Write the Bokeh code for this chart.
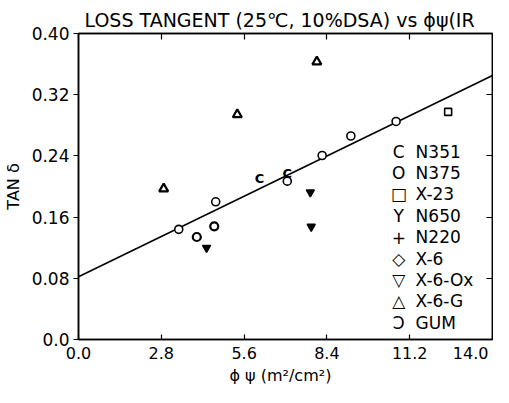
from bokeh.plotting import figure
from bokeh.models import LinearAxis, FixedTicker, Range1d, ColumnDataSource
from bokeh.core.properties import value
from bokeh.embed import file_html
from bokeh.resources import INLINE

# ---------------- data ----------------
title_text = "LOSS TANGENT (25℃, 10%DSA) vs ϕψ(IR"
x_axis_title = "ϕ ψ   (m²/cm²)"
y_axis_title = "TAN δ"

x_ticks = [0.0, 2.8, 5.6, 8.4, 11.2, 14.0]
x_tick_labels = ["0.0", "2.8", "5.6", "8.4", "11.2", "14.0\u00a0"]
y_ticks = [0.0, 0.08, 0.16, 0.24, 0.32, 0.40]
y_tick_labels = ["0.0", "0.08", "0.16", "0.24", "0.32", "0.40"]

n351_x = [6.12, 7.06]
n351_y = [0.211, 0.217]
n375_x = [3.39, 4.64, 7.06, 8.24, 9.21, 10.74]
n375_y = [0.144, 0.180, 0.207, 0.2405, 0.266, 0.285]
x23_x = [12.5]
x23_y = [0.2975]
x6ox_x = [4.33, 7.84, 7.87]
x6ox_y = [0.120, 0.1925, 0.1475]
x6g_x = [2.88, 5.37, 8.06]
x6g_y = [0.197, 0.294, 0.363]
gum_x = [4.0, 4.59]
gum_y = [0.134, 0.148]
fit_x = [0.0, 14.0]
fit_y = [0.082, 0.345]

legend_symbols = ["C", "O", "□", "Y", "+", "◇", "▽", "△", "Ɔ"]
legend_names = ["N351", "N375", "X-23", "N650", "N220", "X-6", "X-6-Ox", "X-6-G", "GUM"]

FONT = "DejaVu Sans"

p = figure(width=493, height=387, x_range=Range1d(0, 14), y_range=Range1d(0, 0.4),
           output_backend="svg", toolbar_location=None,
           min_border_left=73, min_border_right=1, min_border_top=33, min_border_bottom=42)
p.background_fill_color = "white"
p.border_fill_color = "white"
p.grid.visible = False
p.outline_line_color = "black"
p.outline_line_width = 1.5

p.title.text = title_text
p.title.text_font = FONT
p.title.text_font_size = "19px"
p.title.text_font_style = "normal"
p.title.text_color = "black"
p.title.align = "left"
p.title.offset = 6
p.title.standoff = 5

def style_axis(ax, ticks, labels, tin, tout, show, fs="16px"):
    ax.ticker = FixedTicker(ticks=ticks)
    ax.major_label_overrides = {t: (l if show else "") for t, l in zip(ticks, labels)}
    ax.major_tick_in = tin
    ax.major_tick_out = tout
    ax.minor_tick_in = 0
    ax.minor_tick_out = 0
    ax.axis_line_color = "black"
    ax.axis_line_width = 1.5
    ax.major_tick_line_color = "black"
    ax.major_tick_line_width = 1.2
    ax.major_label_text_font = FONT
    ax.major_label_text_font_size = fs
    ax.major_label_text_color = "black"
    ax.axis_label_text_font = FONT
    ax.axis_label_text_font_size = "16px"
    ax.axis_label_text_font_style = "normal"
    ax.axis_label_text_color = "black"

xa = p.xaxis[0]
ya = p.yaxis[0]
style_axis(xa, x_ticks, x_tick_labels, 5, 0, True, "16px")
style_axis(ya, y_ticks, y_tick_labels, 0, 5, True, "17px")
xa.major_label_standoff = 4
xa.axis_label = x_axis_title
xa.axis_label_standoff = 0
ya.major_label_standoff = 4
ya.axis_label = y_axis_title
ya.axis_label_standoff = 6

top = LinearAxis()
style_axis(top, x_ticks, x_tick_labels, 6, 0, False, "0px")
top.major_label_standoff = 0
p.add_layout(top, "above")
right = LinearAxis()
style_axis(right, y_ticks, y_tick_labels, 6, 0, False, "0px")
right.major_label_standoff = 0
p.add_layout(right, "right")

# regression line
p.line(fit_x, fit_y, line_color="black", line_width=1.6)

# data markers
p.scatter(n375_x, n375_y, marker="circle", size=8, line_color="black", line_width=1.6, fill_color="white")
p.scatter(gum_x, gum_y, marker="circle", size=8, line_color="black", line_width=2.2, fill_color="white")
p.scatter(x23_x, x23_y, marker="square", size=7, line_color="black", line_width=1.6, fill_color="white")
p.scatter(x6ox_x, x6ox_y, marker="inverted_triangle", size=8, line_color="black", line_width=1.5, fill_color="black")
p.scatter(x6g_x, x6g_y, marker="triangle", size=9, line_color="black", line_width=2.2, fill_color="white")
p.text(n351_x, n351_y, text=["C"] * len(n351_x), text_font=value(FONT), text_font_size="13px",
       text_font_style="bold", text_align="center", text_baseline="middle", text_color="black")

# legend drawn as text in data space
n = len(legend_names)
row0 = 0.2457
step = 0.0280
leg = ColumnDataSource(dict(
    sx=[10.83] * n,
    tx=[11.4] * n,
    y=[row0 - i * step for i in range(n)],
    sym=legend_symbols,
    name=legend_names,
))
p.text(x="sx", y="y", text="sym", source=leg, text_font=value(FONT), text_font_size="17px",
       text_align="center", text_baseline="middle", text_color="black")
p.text(x="tx", y="y", text="name", source=leg, text_font=value(FONT), text_font_size="17px",
       text_align="left", text_baseline="middle", text_color="black")

open("out.html", "w").write(file_html(p, INLINE))
